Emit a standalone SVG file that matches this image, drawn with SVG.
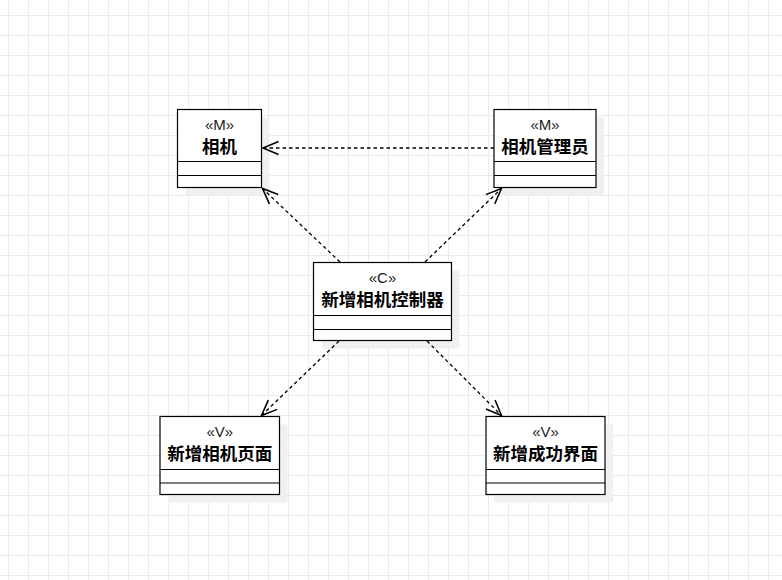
<svg xmlns="http://www.w3.org/2000/svg" width="782" height="580" viewBox="0 0 782 580">
  <defs>
    <pattern id="grid" x="8" y="15" width="20" height="20" patternUnits="userSpaceOnUse">
      <path d="M0 0.5H20M0.5 0V20" fill="none" stroke="#ebebeb" stroke-width="1"/>
    </pattern>
    <marker id="open" markerUnits="userSpaceOnUse" markerWidth="20" markerHeight="20" viewBox="-16 -8 18 16" refX="0" refY="0" orient="auto">
      <path d="M-14 -5.8L0 0L-14 5.8" fill="none" stroke="#000" stroke-width="1.4"/>
    </marker>
    <style>
      .box { fill: #fff; stroke: #000; stroke-width: 1.2; }
      .shadow { fill: #f0f0f0; }
      .div { stroke: #000; stroke-width: 1.2; }
      .st { font-family: "Liberation Sans", "Noto Sans CJK SC", sans-serif; font-size: 15px; fill: #222; text-anchor: middle; }
      .nm { font-family: "Liberation Sans", "Noto Sans CJK SC", sans-serif; font-size: 17.5px; font-weight: bold; fill: #000; text-anchor: middle; }
      .conn { fill: none; stroke: #000; stroke-width: 1.3; stroke-dasharray: 3.5 3; marker-end: url(#open); }
    </style>
  </defs>
  <rect width="782" height="580" fill="#fff"/>
  <rect width="782" height="580" fill="url(#grid)"/>

  <g id="node-camera">
    <rect class="shadow" x="185.5" y="117.5" width="84" height="78"/>
    <rect class="box" x="177.5" y="109.5" width="84" height="78"/>
    <line class="div" x1="177.5" y1="161.5" x2="261.5" y2="161.5"/>
    <line class="div" x1="177.5" y1="175.5" x2="261.5" y2="175.5"/>
    <text class="st" x="219.5" y="129.5">«M»</text>
    <text class="nm" x="219.5" y="152.5">相机</text>
  </g>

  <g id="node-camera-manager">
    <rect class="shadow" x="502" y="117.5" width="102" height="78"/>
    <rect class="box" x="494" y="109.5" width="102" height="78"/>
    <line class="div" x1="494" y1="161.5" x2="596" y2="161.5"/>
    <line class="div" x1="494" y1="175.5" x2="596" y2="175.5"/>
    <text class="st" x="545" y="129.5">«M»</text>
    <text class="nm" x="545" y="152.5">相机管理员</text>
  </g>

  <g id="node-controller">
    <rect class="shadow" x="321.5" y="270.5" width="138" height="78"/>
    <rect class="box" x="313.5" y="262.5" width="138" height="78"/>
    <line class="div" x1="313.5" y1="315.5" x2="451.5" y2="315.5"/>
    <line class="div" x1="313.5" y1="329.5" x2="451.5" y2="329.5"/>
    <text class="st" x="382.5" y="283">«C»</text>
    <text class="nm" x="382.5" y="306">新增相机控制器</text>
  </g>

  <g id="node-add-page">
    <rect class="shadow" x="168" y="424.5" width="119.5" height="78"/>
    <rect class="box" x="160" y="416.5" width="119.5" height="78"/>
    <line class="div" x1="160" y1="469.5" x2="279.5" y2="469.5"/>
    <line class="div" x1="160" y1="483" x2="279.5" y2="483"/>
    <text class="st" x="219.75" y="437">«V»</text>
    <text class="nm" x="219.75" y="460">新增相机页面</text>
  </g>

  <g id="node-success-page">
    <rect class="shadow" x="494" y="424.5" width="119" height="78"/>
    <rect class="box" x="486" y="416.5" width="119" height="78"/>
    <line class="div" x1="486" y1="469.5" x2="605" y2="469.5"/>
    <line class="div" x1="486" y1="483" x2="605" y2="483"/>
    <text class="st" x="545.5" y="437">«V»</text>
    <text class="nm" x="545.5" y="460">新增成功界面</text>
  </g>

  <g id="connectors">
    <path class="conn" d="M494 148H263"/>
    <path class="conn" d="M340 262L262.5 188.5"/>
    <path class="conn" d="M425 262L501.5 188.5"/>
    <path class="conn" d="M339 341L261.5 415.5"/>
    <path class="conn" d="M427 341L501.5 415.5"/>
  </g>
</svg>
